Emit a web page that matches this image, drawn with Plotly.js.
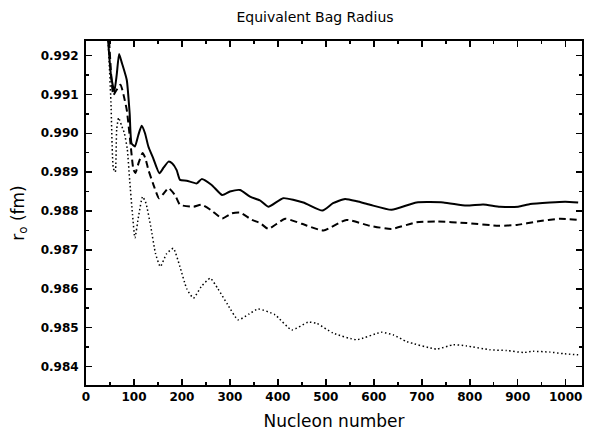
<!DOCTYPE html>
<html>
<head>
<meta charset="utf-8">
<script src="https://cdn.plot.ly/plotly-3.0.1.min.js"></script>
<style>html,body{margin:0;padding:0;background:#fff;}#chart{width:596px;height:434px;}</style>
</head>
<body>
<div id="chart"></div>
<script>
// Solid curve
var solidN = [40, 46, 52, 59, 64, 69, 75, 85, 91, 95, 102, 109, 116, 123, 130, 140, 153, 162, 172, 180, 189, 196, 210, 231, 241, 262, 284, 300, 321, 342, 363, 380, 411, 453, 493, 515, 540, 565, 592, 637, 689, 745, 793, 828, 863, 901, 926, 967, 999, 1026];
var solidR = [0.9935, 0.9924, 0.9915, 0.99107, 0.9915, 0.99204, 0.9918, 0.99137, 0.99051, 0.98974, 0.98966, 0.98995, 0.99019, 0.99000, 0.98966, 0.98936, 0.98897, 0.98912, 0.98927, 0.98922, 0.98905, 0.98880, 0.98878, 0.98871, 0.98882, 0.98867, 0.98841, 0.98850, 0.98854, 0.98837, 0.98827, 0.98811, 0.98833, 0.98822, 0.98801, 0.98820, 0.98831, 0.98825, 0.98816, 0.98803, 0.98822, 0.98822, 0.98814, 0.98817, 0.98811, 0.98811, 0.98818, 0.98822, 0.98824, 0.98822];
// Dashed curve
var dashN = [40, 48, 53, 57, 63, 72, 78, 85, 92, 99, 103, 110, 118, 124, 130, 140, 152, 162, 172, 186, 196, 224, 241, 262, 284, 304, 321, 346, 363, 380, 415, 450, 495, 543, 592, 637, 689, 731, 793, 860, 898, 940, 988, 1026];
var dashR = [0.9935, 0.9924, 0.9914, 0.99098, 0.9911, 0.99125, 0.9910, 0.9906, 0.98983, 0.98906, 0.98898, 0.98925, 0.98949, 0.98935, 0.98906, 0.98870, 0.98833, 0.98845, 0.98859, 0.98840, 0.98816, 0.98811, 0.98816, 0.98801, 0.98781, 0.98794, 0.98796, 0.98777, 0.98769, 0.98754, 0.98780, 0.98767, 0.98750, 0.98777, 0.98762, 0.98754, 0.98771, 0.98773, 0.98769, 0.98762, 0.98764, 0.98773, 0.98780, 0.98777];
// Dotted curve
var dotN = [40, 46, 52, 57, 61, 64, 68, 74, 80, 86, 91, 97, 102, 110, 118, 125, 135, 145, 155, 168, 182, 195, 210, 224, 240, 259, 275, 295, 317, 340, 359, 394, 429, 463, 481, 515, 564, 616, 641, 669, 731, 766, 793, 842, 877, 912, 932, 967, 995, 1026];
var dotR = [0.9935, 0.9924, 0.9908, 0.9891, 0.9890, 0.9901, 0.9904, 0.9902, 0.9900, 0.9896, 0.9888, 0.9879, 0.98731, 0.98790, 0.98837, 0.98820, 0.98760, 0.98690, 0.98657, 0.98690, 0.98704, 0.98660, 0.98600, 0.98576, 0.98605, 0.98627, 0.98600, 0.98560, 0.98520, 0.98535, 0.98548, 0.98533, 0.98494, 0.98514, 0.98511, 0.98486, 0.98469, 0.98488, 0.98481, 0.98464, 0.98445, 0.98456, 0.98453, 0.98443, 0.98441, 0.98436, 0.98439, 0.98437, 0.98433, 0.98430];

var xTickVals = [0, 100, 200, 300, 400, 500, 600, 700, 800, 900, 1000];
var yTickVals = [0.984, 0.985, 0.986, 0.987, 0.988, 0.989, 0.990, 0.991, 0.992];

var ink = '#000';
var traces = [
  {x: solidN, y: solidR, mode: 'lines', line: {color: ink, width: 2, shape: 'spline', smoothing: 0.5}, showlegend: false, hoverinfo: 'skip'},
  {x: dashN, y: dashR, mode: 'lines', line: {color: ink, width: 2, dash: '7px,4px', shape: 'spline', smoothing: 0.5}, showlegend: false, hoverinfo: 'skip'},
  {x: dotN, y: dotR, mode: 'lines', line: {color: ink, width: 1.5, dash: '1.5px,2.5px', shape: 'spline', smoothing: 0.5}, showlegend: false, hoverinfo: 'skip'}
];

var tickFont = {family: 'DejaVu Sans', size: 12, color: ink, weight: 'bold'};
var layout = {
  width: 596, height: 434,
  margin: {l: 86, r: 14, t: 41, b: 49},
  paper_bgcolor: '#fff', plot_bgcolor: '#fff',
  title: {text: 'Equivalent Bag Radius', font: {family: 'DejaVu Sans', size: 14, color: ink}, x: 0.5285, xref: 'container', xanchor: 'center', y: 0.96, yref: 'container', yanchor: 'middle'},
  xaxis: {
    range: [0, 1034], tickvals: xTickVals, ticktext: xTickVals.map(String),
    ticks: 'inside', ticklen: 6, tickwidth: 1.5, tickcolor: ink,
    minor: {ticks: 'inside', dtick: 50, tick0: 0, ticklen: 3, tickwidth: 1.5, tickcolor: ink, showgrid: false},
    showline: true, linecolor: ink, linewidth: 2, mirror: 'ticks',
    showgrid: false, zeroline: false, tickfont: tickFont,
    title: {text: 'Nucleon number', font: {family: 'DejaVu Sans', size: 17, color: ink}, standoff: 12}
  },
  yaxis: {
    range: [0.983524, 0.992373], tickvals: yTickVals, ticktext: yTickVals.map(function(v){return v.toFixed(3);}),
    ticks: 'inside', ticklen: 6, tickwidth: 1.5, tickcolor: ink,
    minor: {ticks: 'inside', dtick: 0.0005, tick0: 0.984, ticklen: 3, tickwidth: 1.5, tickcolor: ink, showgrid: false},
    showline: true, linecolor: ink, linewidth: 2, mirror: 'ticks',
    showgrid: false, zeroline: false, tickfont: tickFont, ticklabelstandoff: 3,
    title: {text: 'r<sub>o</sub> (fm)', font: {family: 'DejaVu Sans', size: 17, color: ink}, standoff: 12}
  }
};

Plotly.newPlot('chart', traces, layout, {staticPlot: true, displayModeBar: false});
</script>
</body>
</html>
